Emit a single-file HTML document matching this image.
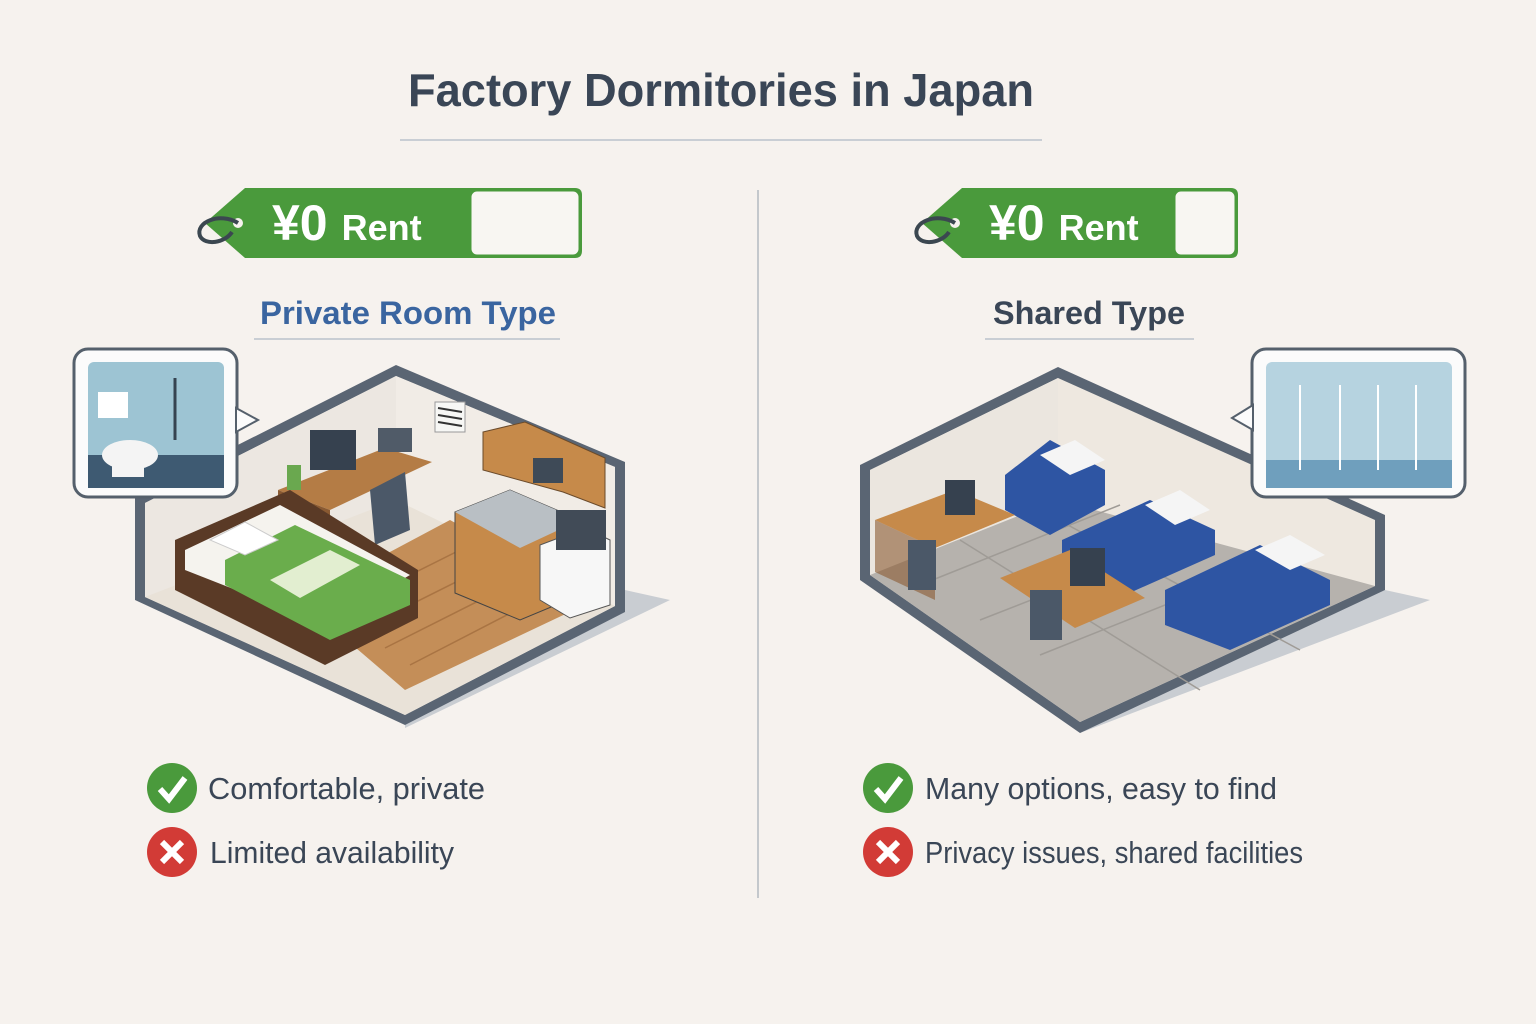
<!DOCTYPE html>
<html><head><meta charset="utf-8"><style>
body{margin:0;background:#f6f2ee;}
svg{display:block}
text{font-family:"Liberation Sans",sans-serif}
</style></head><body>
<svg width="1536" height="1024" viewBox="0 0 1536 1024">
<rect width="1536" height="1024" fill="#f6f2ee"/>
<text x="408" y="106" font-size="46" font-weight="bold" fill="#3a4656" textLength="626" lengthAdjust="spacingAndGlyphs">Factory Dormitories in Japan</text>
<line x1="400" y1="140" x2="1042" y2="140" stroke="#c9ced4" stroke-width="2"/>
<line x1="758" y1="190" x2="758" y2="898" stroke="#c4c8cc" stroke-width="2"/>

<g>
<path d="M245,188 L575,188 Q582,188 582,195 L582,251 Q582,258 575,258 L245,258 L205,223 Z" fill="#4a9a3c"/>
<rect x="470" y="190" width="110" height="66" rx="7" fill="#f8f6f2" stroke="#4a9a3c" stroke-width="3"/>
<circle cx="238" cy="223" r="5" fill="#f6f2ee"/>
<path d="M238,223 C220,212 195,222 200,236 C205,246 225,243 232,232" fill="none" stroke="#3b4750" stroke-width="4"/>
<text x="272" y="240" fill="#fff" font-weight="bold"><tspan font-size="50">¥0</tspan><tspan font-size="36" dx="14">Rent</tspan></text>
</g>
<g transform="translate(717,0)">
<path d="M245,188 L514,188 Q521,188 521,195 L521,251 Q521,258 514,258 L245,258 L205,223 Z" fill="#4a9a3c"/>
<rect x="457" y="190" width="62" height="66" rx="7" fill="#f8f6f2" stroke="#4a9a3c" stroke-width="3"/>
<circle cx="238" cy="223" r="5" fill="#f6f2ee"/>
<path d="M238,223 C220,212 195,222 200,236 C205,246 225,243 232,232" fill="none" stroke="#3b4750" stroke-width="4"/>
<text x="272" y="240" fill="#fff" font-weight="bold"><tspan font-size="50">¥0</tspan><tspan font-size="36" dx="14">Rent</tspan></text>
</g>

<text x="260" y="324" font-size="32" font-weight="bold" fill="#3a65a0" textLength="296" lengthAdjust="spacingAndGlyphs">Private Room Type</text>
<line x1="254" y1="339" x2="560" y2="339" stroke="#c9ced4" stroke-width="2"/>
<text x="993" y="324" font-size="32" font-weight="bold" fill="#3a4656" textLength="192" lengthAdjust="spacingAndGlyphs">Shared Type</text>
<line x1="985" y1="339" x2="1194" y2="339" stroke="#c9ced4" stroke-width="2"/>

<!-- LEFT ROOM -->
<polygon points="405,728 670,600 625,590 405,700" fill="#c9cdd2"/>
<polygon points="135,600 405,725 625,612 625,462 396,365 135,497" fill="#5a6573"/>
<polygon points="145,597 405,715 615,606 615,467 396,376 145,503" fill="#ece6de"/>
<polygon points="396,376 396,560 145,597 145,503" fill="#ece7e1"/>
<polygon points="396,376 615,467 615,606 396,560" fill="#f1ece6"/>
<polygon points="145,597 396,500 615,606 405,715" fill="#e9e2d8"/>
<polygon points="300,600 450,520 595,600 405,690" fill="#c48e58"/>
<g stroke="#a97443" stroke-width="1.5"><line x1="330" y1="615" x2="480" y2="540"/><line x1="360" y1="630" x2="510" y2="555"/><line x1="385" y1="648" x2="540" y2="570"/><line x1="410" y1="665" x2="565" y2="585"/></g>
<rect x="435" y="402" width="30" height="30" fill="#f7f7f5" stroke="#999"/>
<g stroke="#333" stroke-width="2"><line x1="438" y1="408" x2="462" y2="412"/><line x1="438" y1="415" x2="462" y2="419"/><line x1="438" y1="422" x2="462" y2="426"/></g>
<polygon points="483,432 525,422 605,458 605,508 563,492 483,470" fill="#c68a4a" stroke="#6b4b2b"/>
<rect x="533" y="458" width="30" height="25" fill="#3e4a57"/>
<polygon points="455,512 510,490 580,520 580,595 520,620 455,593" fill="#c68a4a" stroke="#444"/>
<polygon points="455,512 510,490 580,520 520,548" fill="#b9bfc4"/>
<polygon points="540,545 585,528 610,540 610,605 570,618 540,600" fill="#f7f7f7" stroke="#555"/>
<rect x="556" y="510" width="50" height="40" fill="#414b57"/>
<polygon points="278,490 385,448 432,462 330,510" fill="#b47c45"/>
<polygon points="278,490 330,510 330,560 278,540" fill="#8a5a32"/>
<rect x="310" y="430" width="46" height="40" fill="#36414f"/>
<rect x="378" y="428" width="34" height="24" fill="#505b68"/>
<rect x="287" y="465" width="14" height="25" fill="#6aa84f"/>
<polygon points="370,490 405,472 410,530 375,545" fill="#4b5868"/>
<polygon points="175,540 290,490 418,570 418,618 325,665 175,590" fill="#5a3a26"/>
<polygon points="185,550 280,505 410,575 325,625 185,570" fill="#f5f3ee"/>
<polygon points="225,560 295,525 410,580 410,605 330,640 225,585" fill="#6aad4c"/>
<polygon points="270,580 330,550 360,565 300,598" fill="#e2eed0"/>
<polygon points="210,540 245,522 278,540 245,555" fill="#fff" stroke="#ccc"/>
<rect x="74" y="349" width="163" height="148" rx="14" fill="#fbfbfb" stroke="#55606c" stroke-width="3"/>
<polygon points="236,408 258,420 236,432" fill="#fbfbfb" stroke="#55606c" stroke-width="2"/>
<rect x="88" y="362" width="136" height="126" rx="6" fill="#9dc4d3"/>
<rect x="88" y="455" width="136" height="33" fill="#3e5a72"/>
<rect x="98" y="392" width="30" height="26" fill="#fff"/>
<ellipse cx="130" cy="455" rx="28" ry="15" fill="#f4f4f4"/>
<rect x="112" y="452" width="32" height="25" fill="#f4f4f4"/>
<path d="M175,378 L175,440" stroke="#354350" stroke-width="3" fill="none"/>

<!-- RIGHT ROOM -->
<polygon points="1080,733 1430,600 1385,590 1080,705" fill="#c9cdd2"/>
<polygon points="860,465 1058,367 1385,515 1385,590 1080,733 860,580" fill="#5a6573"/>
<polygon points="870,470 1058,378 1375,520 1375,586 1080,722 870,575" fill="#eee8e0"/>
<polygon points="1058,378 1058,520 870,575 870,470" fill="#ebe6df"/>
<polygon points="870,575 1058,500 1375,586 1080,722" fill="#b6b2ad"/>
<g stroke="#9f9b96" stroke-width="1.5"><line x1="920" y1="585" x2="1120" y2="505"/><line x1="980" y1="620" x2="1210" y2="530"/><line x1="1040" y1="655" x2="1290" y2="555"/><line x1="960" y1="540" x2="1200" y2="690"/><line x1="1040" y1="510" x2="1300" y2="650"/></g>
<g fill="#2e55a3">
<polygon points="1005,475 1050,440 1105,470 1105,505 1050,535 1005,510"/>
<polygon points="1062,540 1150,500 1215,530 1215,555 1125,595 1062,565"/>
<polygon points="1165,590 1260,545 1330,580 1330,605 1230,650 1165,625"/>
</g>
<g fill="#f5f5f5"><polygon points="1040,455 1075,440 1105,460 1070,475"/><polygon points="1145,505 1180,490 1210,510 1175,525"/><polygon points="1255,550 1290,535 1325,555 1290,570"/></g>
<polygon points="875,520 955,490 1015,515 935,548" fill="#c68a4a"/>
<polygon points="875,520 935,548 935,600 875,572" fill="#8a5a32" opacity=".6"/>
<rect x="945" y="480" width="30" height="35" fill="#36414f"/>
<polygon points="1000,578 1070,550 1145,598 1075,628" fill="#c68a4a"/>
<rect x="1070" y="548" width="35" height="38" fill="#36414f"/>
<rect x="908" y="540" width="28" height="50" fill="#4b5868"/>
<rect x="1030" y="590" width="32" height="50" fill="#4b5868"/>
<rect x="1252" y="349" width="213" height="148" rx="14" fill="#fbfbfb" stroke="#55606c" stroke-width="3"/>
<polygon points="1253,405 1232,418 1253,430" fill="#fbfbfb" stroke="#55606c" stroke-width="2"/>
<rect x="1266" y="362" width="186" height="126" rx="6" fill="#b6d3e0"/>
<rect x="1266" y="460" width="186" height="28" fill="#6f9fbd"/>
<g stroke="#fff" stroke-width="2"><line x1="1300" y1="385" x2="1300" y2="470"/><line x1="1340" y1="385" x2="1340" y2="470"/><line x1="1378" y1="385" x2="1378" y2="470"/><line x1="1416" y1="385" x2="1416" y2="470"/></g>

<g font-size="31" fill="#3a4656" lengthAdjust="spacingAndGlyphs">
<circle cx="172" cy="788" r="25" fill="#4a9a3c"/><path d="M160,789 L169,799 L185,778" stroke="#fff" stroke-width="6" fill="none"/>
<text x="208" y="799" textLength="277" lengthAdjust="spacingAndGlyphs">Comfortable, private</text>
<circle cx="172" cy="852" r="25" fill="#d23b36"/><path d="M162,842 L182,862 M182,842 L162,862" stroke="#fff" stroke-width="6"/>
<text x="210" y="863" textLength="244" lengthAdjust="spacingAndGlyphs">Limited availability</text>
<circle cx="888" cy="788" r="25" fill="#4a9a3c"/><path d="M876,789 L885,799 L901,778" stroke="#fff" stroke-width="6" fill="none"/>
<text x="925" y="799" textLength="352" lengthAdjust="spacingAndGlyphs">Many options, easy to find</text>
<circle cx="888" cy="852" r="25" fill="#d23b36"/><path d="M878,842 L898,862 M898,842 L878,862" stroke="#fff" stroke-width="6"/>
<text x="925" y="863" textLength="378" lengthAdjust="spacingAndGlyphs">Privacy issues, shared facilities</text>
</g>
</svg>
</body></html>
